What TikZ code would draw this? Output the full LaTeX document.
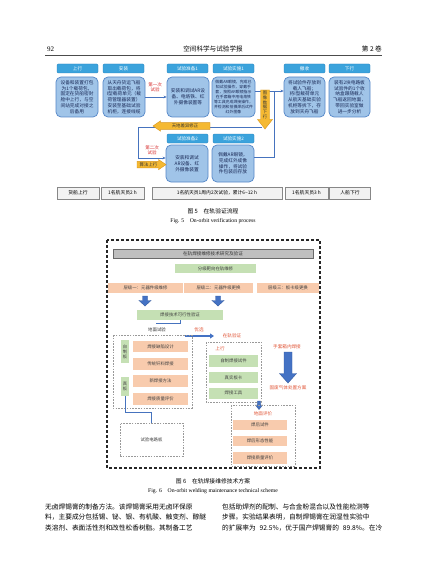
\documentclass[tikz,border=0pt]{standalone}
\usepackage{fontspec}
\setmainfont{Liberation Serif}
\newfontfamily\cjk{Noto Sans CJK SC}
\usetikzlibrary{arrows.meta}
\definecolor{hdrblue}{RGB}{59,163,220}
\definecolor{hdrborder}{RGB}{40,130,190}
\definecolor{bodyblue}{RGB}{160,196,232}
\definecolor{bodyborder}{RGB}{85,135,200}
\definecolor{bodytext}{RGB}{25,40,85}
\definecolor{linkblue}{RGB}{70,115,190}
\definecolor{yel}{RGB}{245,185,50}
\definecolor{yelborder}{RGB}{215,150,30}
\definecolor{redt}{RGB}{215,45,45}
\definecolor{tlfill}{RGB}{242,242,242}
\definecolor{tlborder}{RGB}{135,135,135}
\definecolor{grn}{RGB}{197,224,180}
\definecolor{sal}{RGB}{248,203,173}
\definecolor{hdgray}{RGB}{191,191,191}
\definecolor{hdgrayb}{RGB}{105,105,105}
\definecolor{orr}{RGB}{225,85,55}
\definecolor{blk}{RGB}{68,114,196}
\definecolor{blkb}{RGB}{50,90,160}
\newcommand\bl[1]{{\XeTeXlinebreaklocale "zh"\XeTeXlinebreakskip=0pt plus 2pt minus 0.4pt\makebox[160pt][s]{#1}}}
\begin{document}
\begin{tikzpicture}[x=1pt,y=-1pt,
  hdr/.style={draw=hdrborder,fill=hdrblue,text=white,rounded corners=1.2pt,inner sep=0pt,
    minimum width=41,minimum height=9,font=\cjk\fontsize{4.6}{5}\selectfont,line width=0.4pt},
  bdy/.style={draw=bodyborder,fill=bodyblue,text=bodytext,rounded corners=5pt,inner xsep=1.5pt,inner ysep=0pt,
    align=center,line width=0.7pt,minimum height=40,font=\cjk\fontsize{4.7}{5.8}\selectfont},
  tl/.style={draw=tlborder,fill=tlfill,inner sep=0pt,minimum height=12,line width=0.6pt,
    font=\cjk\fontsize{4.8}{5}\selectfont},
  conn/.style={draw=linkblue,line width=0.8pt},
  arr/.style={conn,-{Stealth[length=3pt,width=2.6pt]}},
  rtxt/.style={text=redt,align=center,inner sep=0pt,font=\cjk\fontsize{4.5}{5.2}\selectfont},
  otxt/.style={text=orr,align=center,inner sep=0pt,font=\cjk\fontsize{4.6}{5.2}\selectfont},
  ytxt/.style={text=black!80,align=center,inner sep=0pt,font=\cjk\fontsize{4.4}{5}\selectfont},
  gbox/.style={fill=grn,inner sep=0pt,text=black!75,align=center,font=\cjk\fontsize{4.4}{5.2}\selectfont},
  sbox/.style={fill=sal,inner sep=0pt,text=black!75,align=center,font=\cjk\fontsize{4.4}{5.2}\selectfont},
  dbox/.style={draw=black!40,dash pattern=on 1.6pt off 1.2pt,line width=0.6pt},
  plain/.style={inner sep=0pt,text=black!80,font=\cjk\fontsize{4.4}{5}\selectfont},
  yarr/.style={fill=yel,draw=yelborder,line width=0.4pt},
  barr/.style={fill=blk,draw=blkb,line width=0.4pt}
]
\useasboundingbox (0,0) rectangle (427,575);
\fill[white] (0,0) rectangle (427,575);

% ---------- page header ----------
\node[anchor=west,inner sep=0pt,font=\fontsize{7}{8}\selectfont] (pg) at (47,49) {92};
\node[inner sep=0pt,font=\cjk\fontsize{6.6}{8}\selectfont] (jn) at (213,49) {空间科学与试验学报};
\node[anchor=east,inner sep=0pt,font=\cjk\fontsize{6.6}{8}\selectfont] (vol) at (382,49) {第 2 卷};
\draw[line width=0.6pt,black!70] (45,55.5) -- (382,55.5);

% ---------- Figure 5 ----------
\node[hdr] (t1) at (77.5,68.5) {上行};
\node[hdr] (t2) at (123.5,68.5) {安装};
\node[hdr] (t3) at (187.5,68.5) {试验准备1};
\node[hdr] (t4) at (233.5,68.5) {试验实施1};
\node[hdr] (t5) at (304.5,68.5) {撤收};
\node[hdr] (t6) at (349.5,68.5) {下行};

\node[bdy,text width=39] (b1) at (77,97) {设备和装置打包\\为1个载荷包，\\固定在货船密封\\舱中上行，与空\\间站完成对接之\\后备用};
\node[bdy,text width=39] (b2) at (124,97) {从天舟货运飞船\\取出载荷包，将\\I型载荷单元（载\\荷管理器装置）\\安装至基础试验\\机柜，连接线缆};
\node[bdy,text width=39] (b3) at (188,97) {安装和调试AR设\\备、电烙铁、红\\外摄像装置等};
\node[bdy,text width=40,font=\cjk\fontsize{3.9}{5}\selectfont] (b4) at (233.5,97) {佩戴AR眼镜，完成已\\知试验操作，穿戴手\\套，按照AR眼镜指示\\在手套箱中用电烙铁\\等工具完成焊接操作，\\并检测和拍摄焊后试件\\红外图像};
\node[bdy,text width=38] (b5) at (304.5,97) {将试验件存放到\\载人飞船；\\将I型载荷单元\\从航天基础实验\\机柜等拆下，存\\放到天舟飞船};
\node[bdy,text width=38] (b6) at (349.5,97) {装有2块电路板\\试验件的1个收\\纳盒跟随载人\\飞船返回地面，\\带回实验室做\\进一步分析};

\node[hdr] (t7) at (187.5,138.5) {试验准备2};
\node[hdr] (t8) at (233.5,138.5) {试验实施2};
\node[bdy,text width=39,minimum height=37] (b7) at (187,163.5) {安装和调试\\AR设备、红\\外摄像装置};
\node[bdy,text width=39,minimum height=37] (b8) at (233,163.5) {佩戴AR眼镜，\\完成红外成像\\操作，将试验\\件包装后存放};

% connectors
\draw[arr] (b2.east) -- (b3.west);
\node[rtxt] (l1) at (155,87) {第一次\\试验};
\draw[arr] ([yshift=6pt]b4.east) -- ([yshift=6pt]b5.west);
\coordinate (j1) at (274,91);
\coordinate (ytip) at (262,127);
\coordinate (c1) at (138,127);
\draw[arr] (ytip) -- (c1) |- ([yshift=5.5pt]b7.west);
\draw[conn] ([yshift=6.5pt]b8.east) -| (j1);
\node[rtxt] (l2) at (152,150.5) {第二次\\试验};

% yellow arrows
\path[yarr] (260.5,90) -- (269.5,90) -- (269.5,119.5) -- (272.5,119.5) -- (265,129) -- (257.5,119.5) -- (260.5,119.5) -- cycle;
\node[ytxt,font=\cjk\fontsize{4.3}{4.9}\selectfont] (ydn) at (265,105) {图\\像\\数\\据\\下\\行};
\path[yarr] (153,126) -- (160.5,120.8) -- (160.5,122.6) -- (210,122.6) -- (210,129.4) -- (160.5,129.4) -- (160.5,131.2) -- cycle;
\node[ytxt] (ycorr) at (185,126) {天地差异修正};
\path[yarr] (137,161.3) -- (158.5,161.3) -- (158.5,159.5) -- (166,164.6) -- (158.5,169.7) -- (158.5,167.9) -- (137,167.9) -- cycle;
\node[ytxt] (yup) at (148.5,164.6) {算法上行};

% timeline
\node[tl,minimum width=42] (s1) at (78,193) {货船上行};
\node[tl,minimum width=43] (s2) at (122.5,193) {1名航天员2 h};
\node[tl,minimum width=130] (s3) at (217,193) {1名航天员1周内2次试验，累计6\textasciitilde12 h};
\node[tl,minimum width=43] (s4) at (306.5,193) {1名航天员3 h};
\node[tl,minimum width=41] (s5) at (350,193) {人船下行};

\node[inner sep=0pt,font=\cjk\fontsize{5.8}{7}\selectfont] (cap5) at (213,211.5) {图 5\quad 在轨验证流程};
\node[inner sep=0pt,font=\fontsize{5.7}{7}\selectfont] (cap5e) at (213,221.5) {Fig. 5\quad On-orbit verification process};

% ---------- Figure 6 ----------
\draw[black!85,line width=1.1pt,dash pattern=on 3pt off 2pt] (107,240) rectangle (320,468);

\node[fill=hdgray,draw=hdgrayb,line width=0.8pt,inner sep=0pt,minimum width=200,minimum height=9.5,
  text=black!80,font=\cjk\fontsize{4.6}{5}\selectfont] (g0) at (213,254) {在轨焊接维修技术研究及验证};
\node[gbox,minimum width=81,minimum height=9] (g1) at (215.5,268.5) {分级靶向在轨维修};
\node[sbox,minimum width=75,minimum height=10] (L1) at (145.5,288) {层级一：元器件级维修};
\node[sbox,minimum width=69,minimum height=10] (L2) at (218.5,288) {层级二：元器件级更换};
\node[sbox,minimum width=62,minimum height=10] (L3) at (288,288) {层级三：板卡级更换};

\path[barr] (142.5,296) -- (147.5,296) -- (147.5,300.5) -- (151,300.5) -- (145,306) -- (139,300.5) -- (142.5,300.5) -- cycle;
\path[barr] (215.5,296) -- (220.5,296) -- (220.5,300.5) -- (224,300.5) -- (218,306) -- (212,300.5) -- (215.5,300.5) -- cycle;

\node[gbox,minimum width=86,minimum height=10] (g2) at (180,315) {焊接技术可行性验证};
\coordinate (br1) at (156,323);
\draw[conn] (br1) -| (g2.south);
\node[plain] (gt) at (157,330) {地面试验};
\node[otxt] (yx) at (199,329.5) {优选};
\coordinate (oa1) at (185,336);
\coordinate (oa2) at (214,336);
\draw[draw=blk,line width=2pt,-{Triangle[length=4pt,width=5pt]}] (oa1) -- (oa2);
\node[otxt] (zgy) at (232,336) {在轨验证};

% left dashed box
\draw[dbox] (113,335) rectangle (192,408);
\node[gbox,minimum width=8,minimum height=23,font=\cjk\fontsize{4.3}{5}\selectfont] (zzb) at (125,351.5) {自\\制\\板};
\node[gbox,minimum width=8,minimum height=19,font=\cjk\fontsize{4.3}{5}\selectfont] (zb) at (125,386.5) {真\\板};
\node[sbox,minimum width=55,minimum height=11] (S1) at (160.5,346.5) {焊接缺陷设计};
\node[sbox,minimum width=55,minimum height=12] (S2) at (160.5,363.5) {传统钎料焊接};
\node[sbox,minimum width=55,minimum height=12] (S3) at (160.5,381) {新焊接方法};
\node[sbox,minimum width=55,minimum height=12] (S4) at (160.5,399) {焊接质量评价};

\node[dbox,minimum width=63,minimum height=33,inner sep=0pt,text=black!75,font=\cjk\fontsize{4.4}{5}\selectfont] (tb) at (151.5,439.5) {试验电路板};
\coordinate (k1) at (125,412.5);
\draw[conn] (zb.south) -- (k1) -| (tb.north);

% middle dashed box
\draw[dbox] (206,342) rectangle (261,402);
\node[otxt] (sx) at (220,348.5) {上行};
\node[gbox,minimum width=49,minimum height=12] (M1) at (233.5,361) {自制焊接试件};
\node[gbox,minimum width=49,minimum height=11] (M2) at (233.5,377.5) {真实板卡};
\node[gbox,minimum width=49,minimum height=11] (M3) at (233.5,393) {焊接工具};
\path[barr] (257.6,401) -- (260.4,401) -- (260.4,405) -- (262.6,405) -- (259,409.5) -- (255.4,405) -- (257.6,405) -- cycle;

\node[otxt] (stx) at (287,347) {手套箱内焊接};
\path[barr] (284,352) -- (292,352) -- (292,373.5) -- (296.5,373.5) -- (288,383) -- (279.5,373.5) -- (284,373.5) -- cycle;
\node[otxt] (gf) at (288,387.5) {固废气体处置方案};

% right dashed box
\draw[dbox] (231,405) rectangle (295,466);
\node[otxt] (dmpj) at (263,413.5) {地面评价};
\node[sbox,minimum width=54,minimum height=10] (R1) at (260,425) {焊后试件};
\node[sbox,minimum width=54,minimum height=10] (R2) at (260,441) {焊后形态性能};
\node[sbox,minimum width=54,minimum height=12] (R3) at (260,458) {焊接质量评价};

\node[inner sep=0pt,font=\cjk\fontsize{5.8}{7}\selectfont] (cap6) at (213,481) {图 6\quad 在轨焊接维修技术方案};
\node[inner sep=0pt,font=\fontsize{5.7}{7}\selectfont] (cap6e) at (213,491) {Fig. 6\quad On-orbit welding maintenance technical scheme};

% ---------- body text ----------
\node[anchor=west,inner sep=0pt,font=\cjk\fontsize{6.7}{8}\selectfont] (p1) at (45,507) {\bl{无卤焊锡膏的制备方法。该焊锡膏采用无卤环保原}};
\node[anchor=west,inner sep=0pt,font=\cjk\fontsize{6.7}{8}\selectfont] (p2) at (45,517.5) {\bl{料，主要成分包括锡、铋、银、有机酸、触变剂、醇醚}};
\node[anchor=west,inner sep=0pt,font=\cjk\fontsize{6.7}{8}\selectfont] (p3) at (45,528) {\bl{类溶剂、表面活性剂和改性松香树脂。其制备工艺}};
\node[anchor=west,inner sep=0pt,font=\cjk\fontsize{6.7}{8}\selectfont] (q1) at (222,507) {\bl{包括助焊剂的配制、与合金粉混合以及性能检测等}};
\node[anchor=west,inner sep=0pt,font=\cjk\fontsize{6.7}{8}\selectfont] (q2) at (222,517.5) {\bl{步骤。实验结果表明，自制焊锡膏在润湿性实验中}};
\node[anchor=west,inner sep=0pt,font=\cjk\fontsize{6.7}{8}\selectfont] (q3) at (222,528) {\bl{的扩展率为 92.5\%，优于国产焊锡膏的 89.8\%。在冷}};
\end{tikzpicture}
\end{document}
